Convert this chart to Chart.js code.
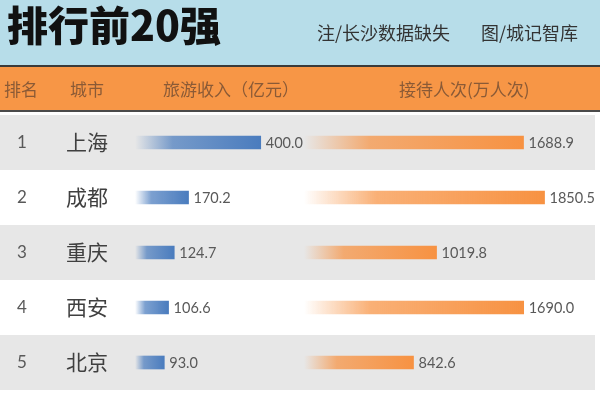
<!DOCTYPE html>
<html>
<head>
<meta charset="utf-8">
<script src="https://cdn.jsdelivr.net/npm/chart.js@4"></script>
<style>
  html, body { margin: 0; padding: 0; background: #fff; }
  #wrap { width: 600px; height: 400px; position: relative; }
</style>
</head>
<body>
<div id="wrap"><canvas id="chart"></canvas></div>
<script>
const ranks = ["1", "2", "3", "4", "5"];
const cities = ["上海", "成都", "重庆", "西安", "北京"];
const income = [400.0, 170.2, 124.7, 106.6, 93.0];
const visitors = [1688.9, 1850.5, 1019.8, 1690.0, 842.6];

const title = "排行前20强";
const note1 = "注/长沙数据缺失";
const note2 = "图/城记智库";
const headers = ["排名", "城市", "旅游收入（亿元）", "接待人次(万人次)"];

const CJK = '"Noto Sans CJK SC", "Noto Sans", sans-serif';
const NUM = 'Lato, "Noto Sans", sans-serif';

function barGradient(ctx, scaleId, r, g, b) {
    const chart = ctx.chart;
    if (!chart.chartArea || ctx.type !== "data") return `rgb(${r},${g},${b})`;
    const scale = chart.scales[scaleId];
    const x0 = scale.getPixelForValue(0);
    const x1 = scale.getPixelForValue(ctx.raw);
    const grad = chart.ctx.createLinearGradient(x0, 0, x1, 0);
    grad.addColorStop(0, `rgba(${r},${g},${b},0)`);
    grad.addColorStop(0.3, `rgba(${r},${g},${b},0.72)`);
    grad.addColorStop(1, `rgba(${r},${g},${b},1)`);
    return grad;
}

const tablePlugin = {
    id: "table",
    beforeDraw(chart) {
        const c = chart.ctx;
        const y = chart.scales.y;
        c.save();
        // title band
        c.fillStyle = "#b7dde9";
        c.fillRect(0, 0, 600, 66);
        c.fillStyle = "#3a3a3a";
        c.fillRect(0, 65, 600, 2);
        c.fillStyle = "#f79646";
        c.fillRect(0, 67, 600, 44);
        c.fillStyle = "#4a4a4a";
        c.fillRect(0, 110, 600, 2);
        // striped rows
        const step = y.getPixelForValue(1) - y.getPixelForValue(0);
        cities.forEach((_, i) => {
            if (i % 2 === 0) {
                const cy = y.getPixelForValue(i);
                c.fillStyle = "#e7e7e7";
                c.fillRect(0, cy - step / 2, 595, step);
            }
        });
        // title
        c.fillStyle = "#111";
        c.textBaseline = "middle";
        c.textAlign = "left";
        c.font = "900 41px " + CJK;
        c.fillText(title, 7, 25);
        c.font = "18px " + CJK;
        c.fillStyle = "#333";
        c.fillText(note1, 317, 33);
        c.fillText(note2, 481, 33);
        // header
        c.fillStyle = "#8a5a36";
        c.font = "17px " + CJK;
        c.fillText(headers[0], 4, 90);
        c.fillText(headers[1], 70, 90);
        c.fillText(headers[2], 163, 90);
        c.fillText(headers[3], 399, 90);
        // ranks and cities
        cities.forEach((city, i) => {
            const cy = y.getPixelForValue(i);
            c.fillStyle = "#595959";
            c.font = "17px " + NUM;
            c.textAlign = "center";
            c.fillText(ranks[i], 22, cy);
            c.fillStyle = "#404040";
            c.font = "21px " + CJK;
            c.textAlign = "left";
            c.fillText(city, 66, cy);
        });
        c.restore();
    },
    afterDatasetsDraw(chart) {
        const c = chart.ctx;
        c.save();
        c.fillStyle = "#595959";
        c.font = "14.5px " + NUM;
        c.textBaseline = "middle";
        c.textAlign = "left";
        chart.data.datasets.forEach((ds, di) => {
            chart.getDatasetMeta(di).data.forEach((bar, i) => {
                c.fillText(ds.data[i].toFixed(1), bar.x + 5, bar.y + 1);
            });
        });
        c.restore();
    }
};

new Chart(document.getElementById("chart"), {
    type: "bar",
    data: {
        labels: cities,
        datasets: [
            {
                label: headers[2],
                data: income,
                xAxisID: "x",
                grouped: false,
                barThickness: 13,
                backgroundColor: ctx => barGradient(ctx, "x", 74, 124, 190)
            },
            {
                label: headers[3],
                data: visitors,
                xAxisID: "x2",
                grouped: false,
                barThickness: 13,
                backgroundColor: ctx => barGradient(ctx, "x2", 247, 146, 66)
            }
        ]
    },
    options: {
        indexAxis: "y",
        responsive: true,
        maintainAspectRatio: false,
        animation: false,
        layout: { padding: { top: 115, bottom: 10, left: 0, right: 0 } },
        plugins: { legend: { display: false }, tooltip: { enabled: false } },
        scales: {
            y: { display: false, offset: true },
            x: { display: false, min: -430, max: 1480 },
            x2: { display: false, min: -2338, max: 2277 }
        }
    },
    plugins: [tablePlugin]
});
</script>
</body>
</html>
